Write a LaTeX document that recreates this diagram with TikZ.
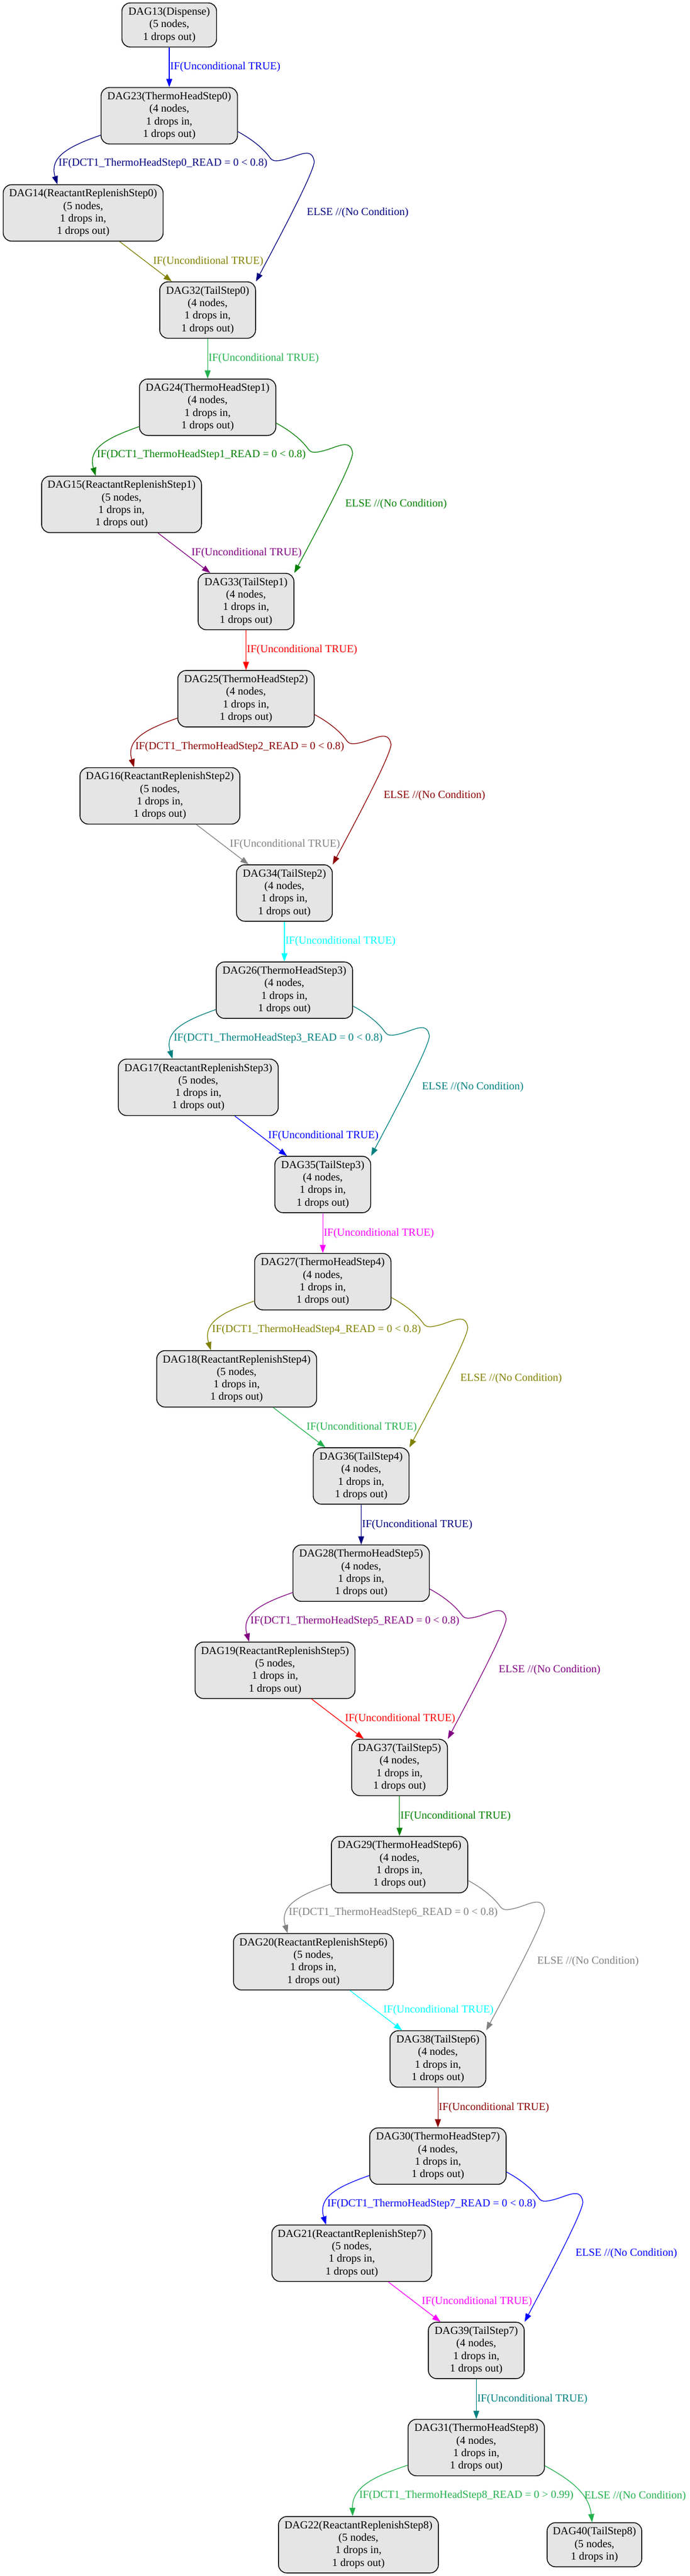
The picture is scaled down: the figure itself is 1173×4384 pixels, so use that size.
\documentclass[tikz,border=0pt]{standalone}
\usepackage{fontspec}
\setmainfont{Liberation Serif}
\usetikzlibrary{arrows.meta,positioning}

\definecolor{dagblue}{HTML}{0000FF}
\definecolor{dagnavy}{HTML}{000080}
\definecolor{dagolive}{HTML}{808000}
\definecolor{daglime}{HTML}{22B14C}
\definecolor{daggreen}{HTML}{008000}
\definecolor{dagpurple}{HTML}{800080}
\definecolor{dagred}{HTML}{FF0000}
\definecolor{dagmaroon}{HTML}{8B0000}
\definecolor{daggray}{HTML}{808080}
\definecolor{dagcyan}{HTML}{00FFFF}
\definecolor{dagteal}{HTML}{008080}
\definecolor{dagmagenta}{HTML}{FF00FF}

\begin{document}
\begin{tikzpicture}[x=1pt, y=-1pt, node distance=165.35pt]

		% Define styles
		\tikzstyle{dagbox} = [
		rectangle, rounded corners=14pt, draw=black, fill=black!10,
		line width=1.4pt, align=center, inner sep=2pt,
		font=\fontsize{18.5pt}{21.3pt}\selectfont]
		\tikzstyle{thermobox} = [dagbox, minimum width=232pt, minimum height=96pt]
		\tikzstyle{replbox} = [dagbox, minimum width=272pt, minimum height=96pt]
		\tikzstyle{tailbox} = [dagbox, minimum width=163pt, minimum height=96pt]
		\tikzstyle{endbox} = [dagbox, minimum width=161pt, minimum height=75pt]
		\tikzstyle{arrow} = [line width=1.2pt, -{Triangle[length=14pt,width=10pt]}]
		\tikzstyle{lbl} = [inner sep=0pt, font=\fontsize{18.5pt}{21.3pt}\selectfont]

		\useasboundingbox (0,0) rectangle (1173,4384);

		% Nodes
		\node (dag13) [endbox] at (288,42.5) {DAG13(Dispense)\\(5 nodes,\\1 drops out)};

		\node (dag23) [thermobox, below of=dag13, yshift=10.85pt] {DAG23(ThermoHeadStep0)\\(4 nodes,\\1 drops in,\\1 drops out)};
		\node (dag14) [replbox, below of=dag23, xshift=-146.5pt] {DAG14(ReactantReplenishStep0)\\(5 nodes,\\1 drops in,\\1 drops out)};
		\node (dag32) [tailbox, below of=dag14, xshift=211.8pt] {DAG32(TailStep0)\\(4 nodes,\\1 drops in,\\1 drops out)};

		\node (dag24) [thermobox, below of=dag32] {DAG24(ThermoHeadStep1)\\(4 nodes,\\1 drops in,\\1 drops out)};
		\node (dag15) [replbox, below of=dag24, xshift=-146.5pt] {DAG15(ReactantReplenishStep1)\\(5 nodes,\\1 drops in,\\1 drops out)};
		\node (dag33) [tailbox, below of=dag15, xshift=211.8pt] {DAG33(TailStep1)\\(4 nodes,\\1 drops in,\\1 drops out)};

		\node (dag25) [thermobox, below of=dag33] {DAG25(ThermoHeadStep2)\\(4 nodes,\\1 drops in,\\1 drops out)};
		\node (dag16) [replbox, below of=dag25, xshift=-146.5pt] {DAG16(ReactantReplenishStep2)\\(5 nodes,\\1 drops in,\\1 drops out)};
		\node (dag34) [tailbox, below of=dag16, xshift=211.8pt] {DAG34(TailStep2)\\(4 nodes,\\1 drops in,\\1 drops out)};

		\node (dag26) [thermobox, below of=dag34] {DAG26(ThermoHeadStep3)\\(4 nodes,\\1 drops in,\\1 drops out)};
		\node (dag17) [replbox, below of=dag26, xshift=-146.5pt] {DAG17(ReactantReplenishStep3)\\(5 nodes,\\1 drops in,\\1 drops out)};
		\node (dag35) [tailbox, below of=dag17, xshift=211.8pt] {DAG35(TailStep3)\\(4 nodes,\\1 drops in,\\1 drops out)};

		\node (dag27) [thermobox, below of=dag35] {DAG27(ThermoHeadStep4)\\(4 nodes,\\1 drops in,\\1 drops out)};
		\node (dag18) [replbox, below of=dag27, xshift=-146.5pt] {DAG18(ReactantReplenishStep4)\\(5 nodes,\\1 drops in,\\1 drops out)};
		\node (dag36) [tailbox, below of=dag18, xshift=211.8pt] {DAG36(TailStep4)\\(4 nodes,\\1 drops in,\\1 drops out)};

		\node (dag28) [thermobox, below of=dag36] {DAG28(ThermoHeadStep5)\\(4 nodes,\\1 drops in,\\1 drops out)};
		\node (dag19) [replbox, below of=dag28, xshift=-146.5pt] {DAG19(ReactantReplenishStep5)\\(5 nodes,\\1 drops in,\\1 drops out)};
		\node (dag37) [tailbox, below of=dag19, xshift=211.8pt] {DAG37(TailStep5)\\(4 nodes,\\1 drops in,\\1 drops out)};

		\node (dag29) [thermobox, below of=dag37] {DAG29(ThermoHeadStep6)\\(4 nodes,\\1 drops in,\\1 drops out)};
		\node (dag20) [replbox, below of=dag29, xshift=-146.5pt] {DAG20(ReactantReplenishStep6)\\(5 nodes,\\1 drops in,\\1 drops out)};
		\node (dag38) [tailbox, below of=dag20, xshift=211.8pt] {DAG38(TailStep6)\\(4 nodes,\\1 drops in,\\1 drops out)};

		\node (dag30) [thermobox, below of=dag38] {DAG30(ThermoHeadStep7)\\(4 nodes,\\1 drops in,\\1 drops out)};
		\node (dag21) [replbox, below of=dag30, xshift=-146.5pt] {DAG21(ReactantReplenishStep7)\\(5 nodes,\\1 drops in,\\1 drops out)};
		\node (dag39) [tailbox, below of=dag21, xshift=211.8pt] {DAG39(TailStep7)\\(4 nodes,\\1 drops in,\\1 drops out)};

		\node (dag31) [thermobox, below of=dag39] {DAG31(ThermoHeadStep8)\\(4 nodes,\\1 drops in,\\1 drops out)};
		\node (dag22) [replbox, below of=dag31, xshift=-200.5pt] {DAG22(ReactantReplenishStep8)\\(5 nodes,\\1 drops in,\\1 drops out)};
		\node (dag40) [endbox, below of=dag31, xshift=201pt] {DAG40(TailStep8)\\(5 nodes,\\1 drops in)};


		% Arrows
		\draw [arrow, dagblue] (dag13) -- node[lbl, right=1pt] {IF(Unconditional TRUE)} (dag23);

		\draw [arrow, dagnavy] ([yshift=-33pt]dag23.west) .. controls +(-54,19) and +(-14,-47) .. ([xshift=-44pt]dag14.north) node[lbl, right=2pt, pos=0.7] {IF(DCT1\_ThermoHeadStep0\_READ = 0 < 0.8)};
		\draw [arrow, dagnavy] ([yshift=-27pt]dag23.east) .. controls +(24,13) and +(-11,-16) .. ++(55,45) .. controls +(6,7) and +(-13,3) .. ++(26,2) .. controls +(25,-7) and +(-4,-25) .. ++(49,4) .. controls +(-1,20) and +(35,-66) .. (dag32.north east) node[lbl, right=25pt, pos=0.51] {ELSE //(No Condition)};
		\draw [arrow, dagolive] ([xshift=62pt]dag14.south) -- node[lbl, right=12pt] {IF(Unconditional TRUE)} ([xshift=-61pt]dag32.north);
		\draw [arrow, daglime] (dag32) -- node[lbl, right=1pt] {IF(Unconditional TRUE)} (dag24);

		\draw [arrow, daggreen] ([yshift=-33pt]dag24.west) .. controls +(-54,19) and +(-14,-47) .. ([xshift=-44pt]dag15.north) node[lbl, right=2pt, pos=0.7] {IF(DCT1\_ThermoHeadStep1\_READ = 0 < 0.8)};
		\draw [arrow, daggreen] ([yshift=-27pt]dag24.east) .. controls +(24,13) and +(-11,-16) .. ++(55,45) .. controls +(6,7) and +(-13,3) .. ++(26,2) .. controls +(25,-7) and +(-4,-25) .. ++(49,4) .. controls +(-1,20) and +(35,-66) .. (dag33.north east) node[lbl, right=25pt, pos=0.51] {ELSE //(No Condition)};
		\draw [arrow, dagpurple] ([xshift=62pt]dag15.south) -- node[lbl, right=12pt] {IF(Unconditional TRUE)} ([xshift=-61pt]dag33.north);
		\draw [arrow, dagred] (dag33) -- node[lbl, right=1pt] {IF(Unconditional TRUE)} (dag25);

		\draw [arrow, dagmaroon] ([yshift=-33pt]dag25.west) .. controls +(-54,19) and +(-14,-47) .. ([xshift=-44pt]dag16.north) node[lbl, right=2pt, pos=0.7] {IF(DCT1\_ThermoHeadStep2\_READ = 0 < 0.8)};
		\draw [arrow, dagmaroon] ([yshift=-27pt]dag25.east) .. controls +(24,13) and +(-11,-16) .. ++(55,45) .. controls +(6,7) and +(-13,3) .. ++(26,2) .. controls +(25,-7) and +(-4,-25) .. ++(49,4) .. controls +(-1,20) and +(35,-66) .. (dag34.north east) node[lbl, right=25pt, pos=0.51] {ELSE //(No Condition)};
		\draw [arrow, daggray] ([xshift=62pt]dag16.south) -- node[lbl, right=12pt] {IF(Unconditional TRUE)} ([xshift=-61pt]dag34.north);
		\draw [arrow, dagcyan] (dag34) -- node[lbl, right=1pt] {IF(Unconditional TRUE)} (dag26);

		\draw [arrow, dagteal] ([yshift=-33pt]dag26.west) .. controls +(-54,19) and +(-14,-47) .. ([xshift=-44pt]dag17.north) node[lbl, right=2pt, pos=0.7] {IF(DCT1\_ThermoHeadStep3\_READ = 0 < 0.8)};
		\draw [arrow, dagteal] ([yshift=-27pt]dag26.east) .. controls +(24,13) and +(-11,-16) .. ++(55,45) .. controls +(6,7) and +(-13,3) .. ++(26,2) .. controls +(25,-7) and +(-4,-25) .. ++(49,4) .. controls +(-1,20) and +(35,-66) .. (dag35.north east) node[lbl, right=25pt, pos=0.51] {ELSE //(No Condition)};
		\draw [arrow, dagblue] ([xshift=62pt]dag17.south) -- node[lbl, right=12pt] {IF(Unconditional TRUE)} ([xshift=-61pt]dag35.north);
		\draw [arrow, dagmagenta] (dag35) -- node[lbl, right=1pt] {IF(Unconditional TRUE)} (dag27);

		\draw [arrow, dagolive] ([yshift=-33pt]dag27.west) .. controls +(-54,19) and +(-14,-47) .. ([xshift=-44pt]dag18.north) node[lbl, right=2pt, pos=0.7] {IF(DCT1\_ThermoHeadStep4\_READ = 0 < 0.8)};
		\draw [arrow, dagolive] ([yshift=-27pt]dag27.east) .. controls +(24,13) and +(-11,-16) .. ++(55,45) .. controls +(6,7) and +(-13,3) .. ++(26,2) .. controls +(25,-7) and +(-4,-25) .. ++(49,4) .. controls +(-1,20) and +(35,-66) .. (dag36.north east) node[lbl, right=25pt, pos=0.51] {ELSE //(No Condition)};
		\draw [arrow, daglime] ([xshift=62pt]dag18.south) -- node[lbl, right=12pt] {IF(Unconditional TRUE)} ([xshift=-61pt]dag36.north);
		\draw [arrow, dagnavy] (dag36) -- node[lbl, right=1pt] {IF(Unconditional TRUE)} (dag28);

		\draw [arrow, dagpurple] ([yshift=-33pt]dag28.west) .. controls +(-54,19) and +(-14,-47) .. ([xshift=-44pt]dag19.north) node[lbl, right=2pt, pos=0.7] {IF(DCT1\_ThermoHeadStep5\_READ = 0 < 0.8)};
		\draw [arrow, dagpurple] ([yshift=-27pt]dag28.east) .. controls +(24,13) and +(-11,-16) .. ++(55,45) .. controls +(6,7) and +(-13,3) .. ++(26,2) .. controls +(25,-7) and +(-4,-25) .. ++(49,4) .. controls +(-1,20) and +(35,-66) .. (dag37.north east) node[lbl, right=25pt, pos=0.51] {ELSE //(No Condition)};
		\draw [arrow, dagred] ([xshift=62pt]dag19.south) -- node[lbl, right=12pt] {IF(Unconditional TRUE)} ([xshift=-61pt]dag37.north);
		\draw [arrow, daggreen] (dag37) -- node[lbl, right=1pt] {IF(Unconditional TRUE)} (dag29);

		\draw [arrow, daggray] ([yshift=-33pt]dag29.west) .. controls +(-54,19) and +(-14,-47) .. ([xshift=-44pt]dag20.north) node[lbl, right=2pt, pos=0.7] {IF(DCT1\_ThermoHeadStep6\_READ = 0 < 0.8)};
		\draw [arrow, daggray] ([yshift=-27pt]dag29.east) .. controls +(24,13) and +(-11,-16) .. ++(55,45) .. controls +(6,7) and +(-13,3) .. ++(26,2) .. controls +(25,-7) and +(-4,-25) .. ++(49,4) .. controls +(-1,20) and +(35,-66) .. (dag38.north east) node[lbl, right=25pt, pos=0.51] {ELSE //(No Condition)};
		\draw [arrow, dagcyan] ([xshift=62pt]dag20.south) -- node[lbl, right=12pt] {IF(Unconditional TRUE)} ([xshift=-61pt]dag38.north);
		\draw [arrow, dagmaroon] (dag38) -- node[lbl, right=1pt] {IF(Unconditional TRUE)} (dag30);

		\draw [arrow, dagblue] ([yshift=-33pt]dag30.west) .. controls +(-54,19) and +(-14,-47) .. ([xshift=-44pt]dag21.north) node[lbl, right=2pt, pos=0.7] {IF(DCT1\_ThermoHeadStep7\_READ = 0 < 0.8)};
		\draw [arrow, dagblue] ([yshift=-27pt]dag30.east) .. controls +(24,13) and +(-11,-16) .. ++(55,45) .. controls +(6,7) and +(-13,3) .. ++(26,2) .. controls +(25,-7) and +(-4,-25) .. ++(49,4) .. controls +(-1,20) and +(35,-66) .. (dag39.north east) node[lbl, right=25pt, pos=0.51] {ELSE //(No Condition)};
		\draw [arrow, dagmagenta] ([xshift=62pt]dag21.south) -- node[lbl, right=12pt] {IF(Unconditional TRUE)} ([xshift=-61pt]dag39.north);
		\draw [arrow, dagteal] (dag39) -- node[lbl, right=1pt] {IF(Unconditional TRUE)} (dag31);

		\draw [arrow, daglime] ([yshift=-30pt]dag31.west) .. controls +(-54,18) and +(-1,-51) .. ([xshift=-10pt]dag22.north) node[lbl, right=3pt, pos=0.73] {IF(DCT1\_ThermoHeadStep8\_READ = 0 > 0.99)};
		\draw [arrow, daglime] ([yshift=-31pt]dag31.east) .. controls +(44,24) and +(-5,-48) .. ([xshift=-4pt]dag40.north) node[lbl, right=2pt, pos=0.63] {ELSE //(No Condition)};
	\end{tikzpicture}
\end{document}
